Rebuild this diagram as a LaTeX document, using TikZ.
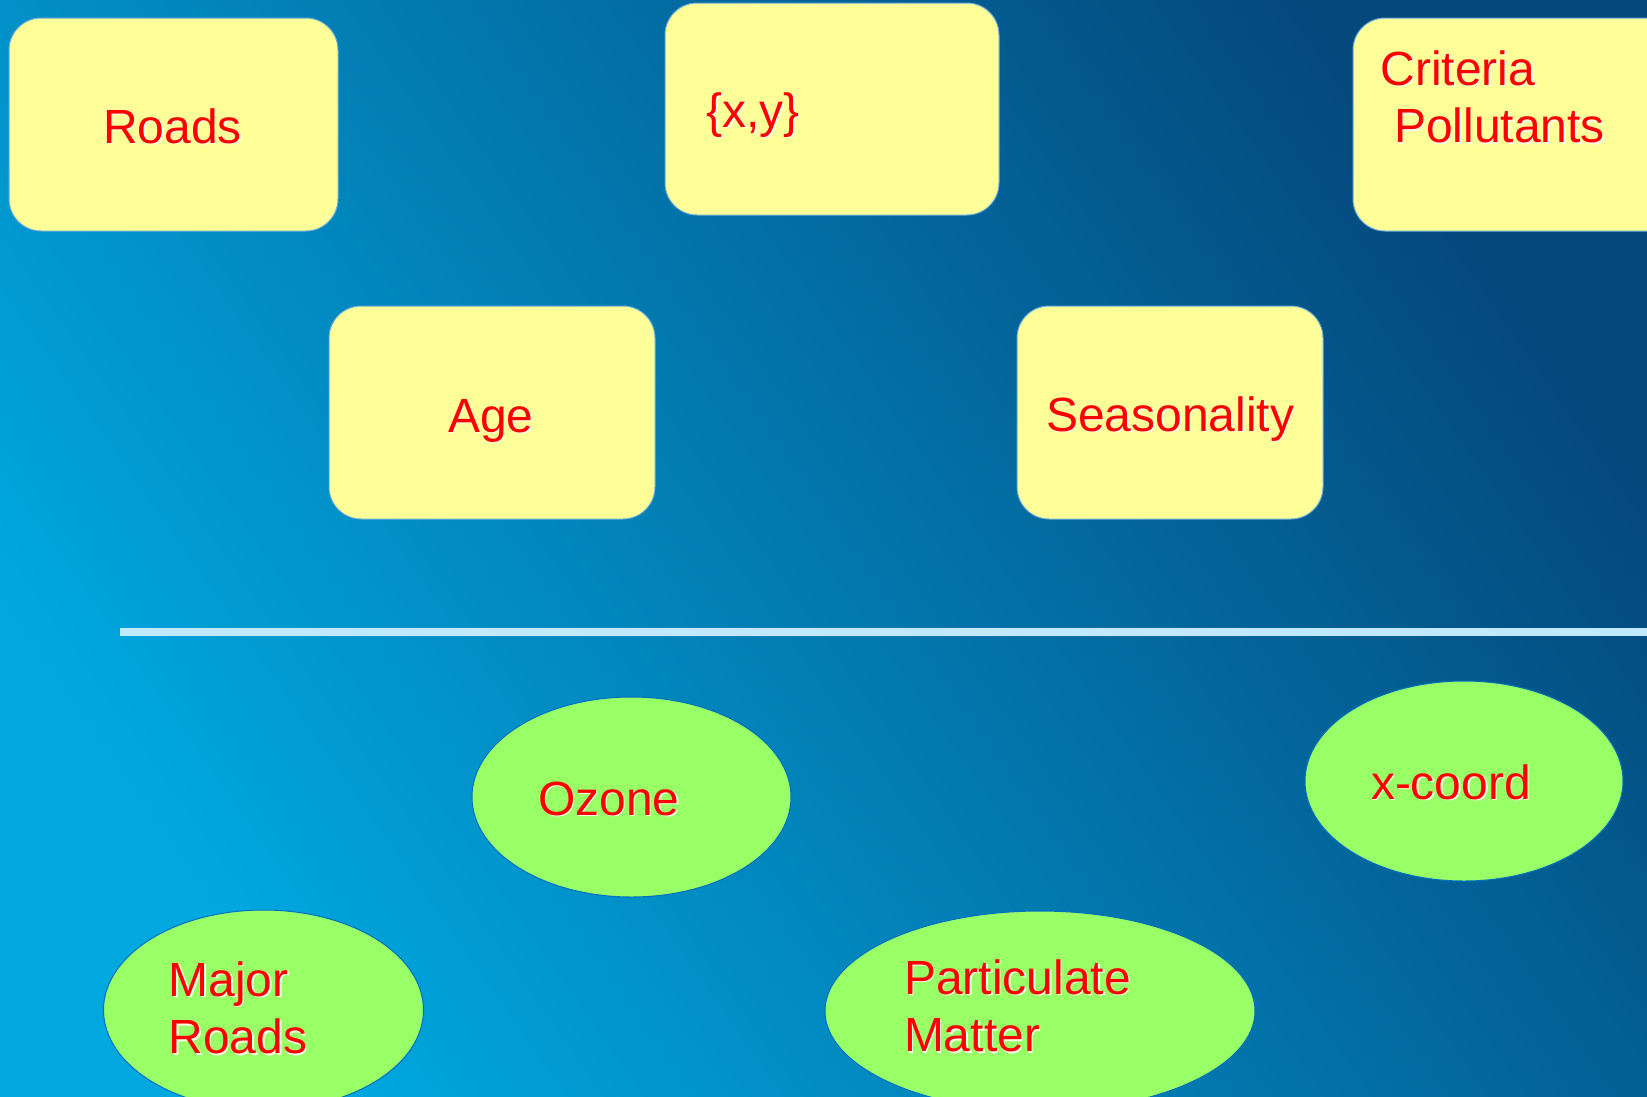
\documentclass[tikz,border=0pt]{standalone}
\usepackage{fontspec}
\setmainfont{Liberation Sans}
\usetikzlibrary{shapes.geometric}

\definecolor{bglight}{RGB}{0,168,224}
\definecolor{bgdark}{RGB}{4,72,124}
\definecolor{boxfill}{RGB}{255,255,153}
\definecolor{ovalfill}{RGB}{153,255,102}
\definecolor{labelred}{RGB}{255,0,0}
\definecolor{edgeblue}{RGB}{0,112,192}
\definecolor{rulelight}{RGB}{192,232,255}
\definecolor{glow}{RGB}{255,255,235}

% red text with a pale offset shadow
\newcommand\glowtext[1]{\rlap{\kern1.6pt\raisebox{-1.6pt}{\textcolor{glow}{#1}}}#1}

\tikzset{
  card/.style={rectangle, rounded corners=32pt, fill=boxfill,
    draw=edgeblue!60, line width=1pt, inner sep=0pt, outer sep=0pt},
  oval/.style={ellipse, fill=ovalfill, draw=edgeblue, line width=1pt,
    inner sep=0pt, outer sep=0pt},
  label/.style={anchor=base west, inner sep=0pt, outer sep=0pt,
    text=labelred, font=\fontsize{48}{57.5}\selectfont},
  divider/.style={draw=rulelight, line width=8pt},
}

\begin{document}
\begin{tikzpicture}[x=1pt, y=-1pt]
\useasboundingbox (0,0) rectangle (1647,1096);
\clip (0,0) rectangle (1647,1096);

% backdrop
\shade[top color=bgdark, bottom color=bglight, shading angle=-55]
  (0,0) rectangle (1647,1096);

% upper group: rounded cards
\node[card, minimum width=329pt, minimum height=213pt] (roads)  at (173.5,124.5) {};
\node[card, minimum width=334pt, minimum height=212pt] (xy)     at (832,109) {};
\node[card, minimum width=330pt, minimum height=213pt] (crit)   at (1518,124.5) {};
\node[card, minimum width=326pt, minimum height=213pt] (age)    at (492,412.5) {};
\node[card, minimum width=306pt, minimum height=213pt] (season) at (1170,412.5) {};

\node[label] (troads)  at (103,143)  {\glowtext{Roads}};
\node[label] (txy)     at (706.5,127) {\glowtext{\{x,y\}}};
\node[label] (tcrit)   at (1380.5,85) {\begin{tabular}[t]{@{}l@{}}\glowtext{Criteria}\\
  \hspace*{13.5pt}\glowtext{Pollutants}\end{tabular}};
\node[label] (tage)    at (448,432)  {\glowtext{Age}};
\node[label] (tseason) at (1046,431) {\glowtext{Seasonality}};

% separator
\coordinate (ruleL) at (120,632);
\coordinate (ruleR) at (1647,632);
\draw[divider] (ruleL) -- (ruleR);

% lower group: ovals
\node[oval, minimum width=319pt, minimum height=200pt] (ozone)  at (631.5,797) {};
\node[oval, minimum width=318pt, minimum height=200pt] (xcoord) at (1464,781) {};
\node[oval, minimum width=320pt, minimum height=200pt] (major)  at (263.5,1010) {};
\node[oval, minimum width=430pt, minimum height=200pt] (pm)     at (1040,1011) {};

\node[label] (tozone)  at (538,815)  {\glowtext{Ozone}};
\node[label] (txcoord) at (1371,799) {\glowtext{x-coord}};
\node[label] (tmajor)  at (168.5,996) {\begin{tabular}[t]{@{}l@{}}\glowtext{Major}\\
  \glowtext{Roads}\end{tabular}};
\node[label] (tpm)     at (904,994)  {\begin{tabular}[t]{@{}l@{}}\glowtext{Particulate}\\
  \glowtext{Matter}\end{tabular}};
\end{tikzpicture}
\end{document}
